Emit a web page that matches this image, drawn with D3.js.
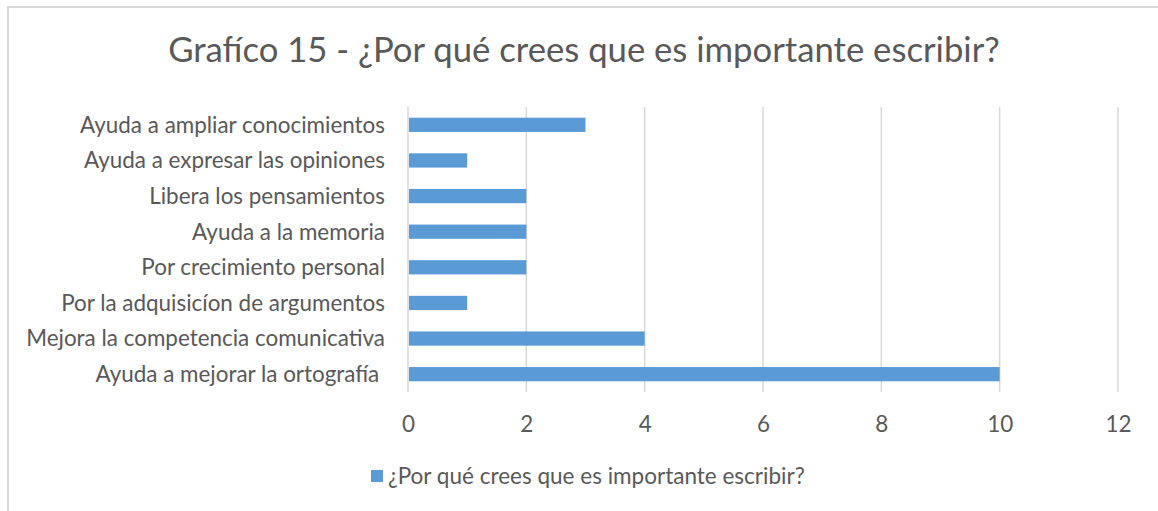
<!DOCTYPE html>
<html>
<head>
<meta charset="utf-8">
<script src="https://cdn.jsdelivr.net/npm/d3@7"></script>
<style>
  html, body { margin: 0; padding: 0; background: #fff; }
  svg { display: block; }
  text { font-family: Lato, "Open Sans", sans-serif; fill: #595959; }
</style>
</head>
<body>
<svg id="chart" width="1158" height="511"></svg>
<script>
const title = "Grafíco 15 - ¿Por qué crees que es importante escribir?";
const seriesName = "¿Por qué crees que es importante escribir?";
const categories = [
  "Ayuda a ampliar conocimientos",
  "Ayuda a expresar las opiniones",
  "Libera los pensamientos",
  "Ayuda a la memoria",
  "Por crecimiento personal",
  "Por la adquisicíon de argumentos",
  "Mejora la competencia comunicativa",
  "Ayuda a mejorar la ortografía "
];
const values = [3, 1, 2, 2, 2, 1, 4, 10];
const xTicks = [0, 2, 4, 6, 8, 10, 12];

const svg = d3.select("#chart");
const W = 1158, H = 511;
const color = "#5b9bd5";
const grid = "#d9d9d9";
const FONT = 'Lato, "Open Sans", sans-serif';

// fit a font size so a text spans a target width
function fitSize(str, target, base) {
  const t = svg.append("text").attr("font-size", base).style("font-family", FONT).text(str);
  const w = t.node().getComputedTextLength();
  t.remove();
  return base * target / w;
}
const labelSize = fitSize("Mejora la competencia comunicativa", 359, 20);
const titleSize = fitSize(title, 832, 30);
const legendSize = fitSize(seriesName, 417, 20);

// outer border
svg.append("path")
  .attr("d", `M8,${H} L8,7 L${W},7`)
  .attr("fill", "none").attr("stroke", grid).attr("stroke-width", 2);

const plot = { left: 408, right: 1118, top: 107, bottom: 392 };

const x = d3.scaleLinear().domain([0, 12]).range([plot.left, plot.right]);
const y = d3.scaleBand().domain(categories).range([plot.top, plot.bottom]).paddingInner(0.6).paddingOuter(0.3);

// gridlines
svg.append("g").selectAll("line").data(xTicks).join("line")
  .attr("x1", d => x(d)).attr("x2", d => x(d))
  .attr("y1", plot.top).attr("y2", plot.bottom)
  .attr("stroke", grid).attr("stroke-width", 1.5);

// bars
svg.append("g").selectAll("rect").data(categories).join("rect")
  .attr("x", x(0) + 1)
  .attr("y", d => y(d))
  .attr("width", (d, i) => x(values[i]) - x(0) - 1)
  .attr("height", y.bandwidth())
  .attr("fill", color);

// x axis labels
const xAxis = d3.axisBottom(x).tickValues(xTicks).tickSize(0).tickPadding(0);
const gx = svg.append("g").attr("transform", `translate(0,${plot.bottom})`).call(xAxis);
gx.select(".domain").remove();
gx.selectAll("text").attr("font-size", labelSize).attr("dy", null).attr("y", 40)
  .style("font-family", FONT).attr("fill", "#595959");

// y axis labels
const yAxis = d3.axisLeft(y).tickSize(0).tickPadding(0);
const gy = svg.append("g").attr("transform", `translate(385,0)`).call(yAxis);
gy.select(".domain").remove();
gy.selectAll("text").attr("font-size", labelSize).attr("dy", "0.35em")
  .style("font-family", FONT).style("white-space", "pre").attr("fill", "#595959");

// title
svg.append("text").attr("x", 584).attr("y", 62).attr("text-anchor", "middle")
  .attr("font-size", titleSize).text(title);

// legend
svg.append("rect").attr("x", 371).attr("y", 470).attr("width", 12).attr("height", 12).attr("fill", color);
svg.append("text").attr("x", 388).attr("y", 484).attr("font-size", legendSize).text(seriesName);
</script>
</body>
</html>
